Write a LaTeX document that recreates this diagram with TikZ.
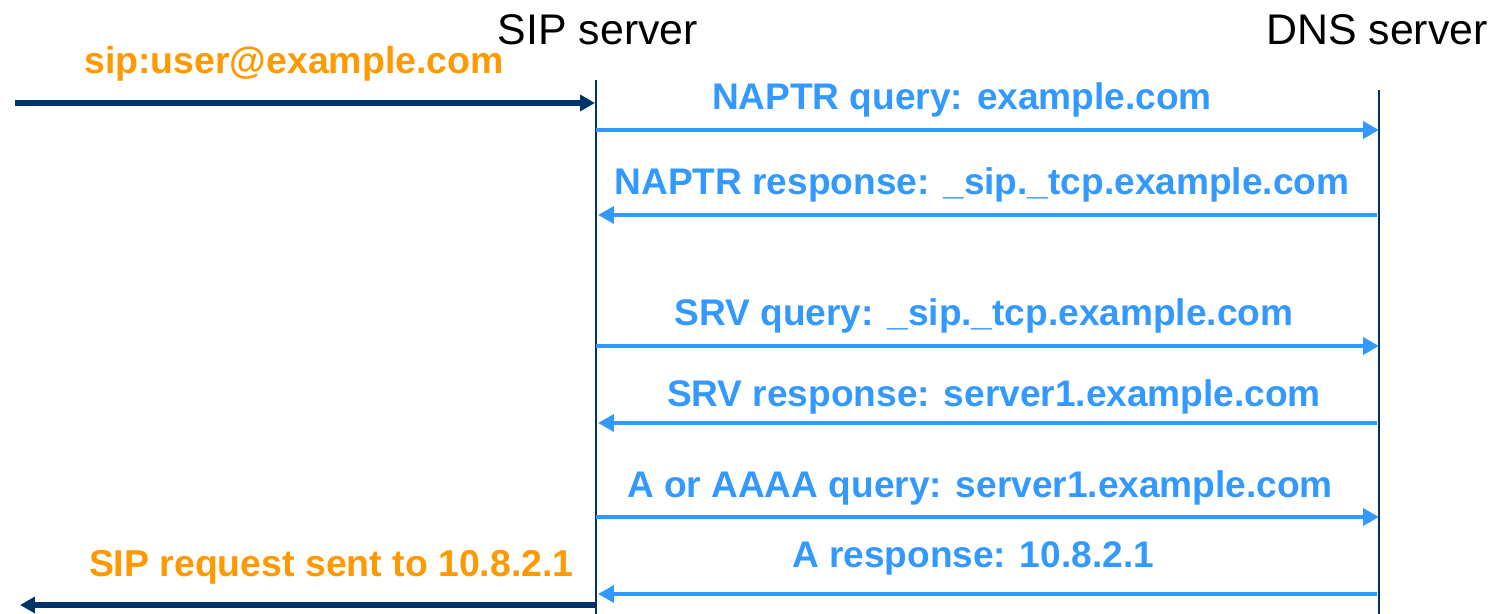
\documentclass[tikz,border=0pt]{standalone}
\usepackage{fontspec}
\setmainfont{Liberation Sans}
\usetikzlibrary{arrows.meta}
\definecolor{navy}{HTML}{003366}
\definecolor{msgblue}{HTML}{3399FF}
\definecolor{orng}{HTML}{FF9900}
\begin{document}
\begin{tikzpicture}[x=0.02cm,y=-0.02cm,
  title/.style={font=\fontsize{24.4}{27}\selectfont, text=black, inner sep=0pt},
  lifeline/.style={draw=navy, line width=1.4pt},
  msg/.style={draw=msgblue, line width=2.6pt, -{Triangle[length=9pt,width=9.5pt]}},
  ext/.style={draw=navy, line width=3pt, -{Triangle[length=8.5pt,width=9pt]}},
  msglabel/.style={font=\bfseries\fontsize{21.1}{25}\selectfont, text=msgblue, inner sep=0pt},
  extlabel/.style={font=\bfseries\fontsize{21.3}{25}\selectfont, text=orng, inner sep=0pt}]
\useasboundingbox (0,0) rectangle (1491,614);
% titles
\node[title] (sip) at (598,30) {SIP server};
\node[title] (dns) at (1377,30) {DNS server};
% lifelines
\coordinate (sipTop) at (596,80);
\coordinate (sipBot) at (596,614);
\coordinate (dnsTop) at (1379,90);
\coordinate (dnsBot) at (1379,614);
\draw[lifeline] (sipTop) -- (sipBot);
\draw[lifeline] (dnsTop) -- (dnsBot);
% external in
\coordinate (inStart) at (15,103);
\coordinate (inEnd) at (595,103);
\draw[ext] (inStart) -- (inEnd);
\node[extlabel] (l0) at (294,64) {sip:user@example.com};
% messages
\coordinate (s1) at (596,130); \coordinate (d1) at (1379,130);
\draw[msg] (s1) -- (d1);
\node[msglabel] (l1) at (962,100) {NAPTR query: example.com};
\coordinate (s2) at (598,215); \coordinate (d2) at (1377,215);
\draw[msg] (d2) -- (s2);
\node[msglabel] (l2) at (982,185) {NAPTR response: \_sip.\_tcp.example.com};
\coordinate (s3) at (596,346); \coordinate (d3) at (1379,346);
\draw[msg] (s3) -- (d3);
\node[msglabel] (l3) at (984,316) {SRV query: \_sip.\_tcp.example.com};
\coordinate (s4) at (598,423); \coordinate (d4) at (1377,423);
\draw[msg] (d4) -- (s4);
\node[msglabel] (l4) at (994,397) {SRV response: server1.example.com};
\coordinate (s5) at (596,517); \coordinate (d5) at (1379,517);
\draw[msg] (s5) -- (d5);
\node[msglabel] (l5) at (980,488) {A or AAAA query: server1.example.com};
\coordinate (s6) at (598,594); \coordinate (d6) at (1377,594);
\draw[msg] (d6) -- (s6);
\node[msglabel] (l6) at (973,558) {A response: 10.8.2.1};
% external out
\coordinate (outStart) at (597,605);
\coordinate (outEnd) at (20,605);
\draw[ext] (outStart) -- (outEnd);
\node[extlabel, anchor=east] (l7) at (574,567) {SIP request sent to 10.8.2.1};
\end{tikzpicture}
\end{document}
